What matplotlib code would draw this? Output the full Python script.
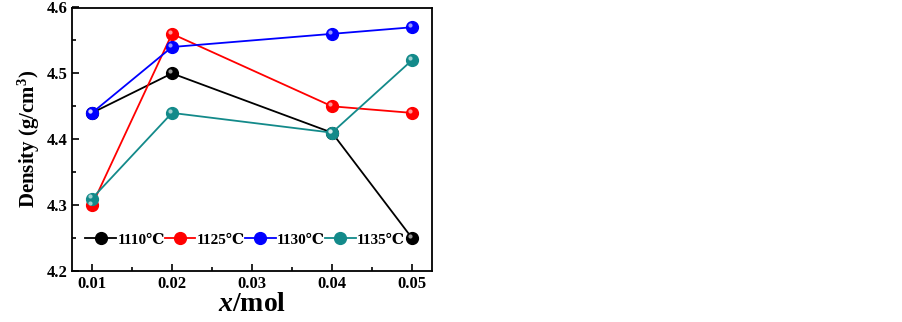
import matplotlib.pyplot as plt
import matplotlib.transforms as mtransforms
from matplotlib.ticker import MultipleLocator

x_mol = [0.01, 0.02, 0.04, 0.05]
temps = ['1110\u2103', '1125\u2103', '1130\u2103', '1135\u2103']
dens_1110 = [4.44, 4.50, 4.41, 4.25]
dens_1125 = [4.30, 4.56, 4.45, 4.44]
dens_1130 = [4.44, 4.54, 4.56, 4.57]
dens_1135 = [4.31, 4.44, 4.41, 4.52]

series = [dens_1110, dens_1125, dens_1130, dens_1135]
colors = ['black', '#ff0000', '#0000ff', '#138a8a']

plt.rcParams['font.family'] = ['Liberation Serif', 'DejaVu Serif']
plt.rcParams['font.weight'] = 'bold'
plt.rcParams['mathtext.fontset'] = 'custom'
plt.rcParams['mathtext.rm'] = 'Liberation Serif:bold'
plt.rcParams['mathtext.it'] = 'Liberation Serif:bold:italic'
plt.rcParams['mathtext.bf'] = 'Liberation Serif:bold'

my_dpi = 100
fig = plt.figure(figsize=(903 / my_dpi, 322 / my_dpi), dpi=my_dpi)
ax = fig.add_axes([72 / 903, 51 / 322, 360 / 903, 263.5 / 322])

# small highlight on each marker to fake the shaded balls
hl = mtransforms.offset_copy(ax.transData, fig=fig, x=-1.5, y=1.5, units='points')

handles = []
for ys, c, lab in zip(series, colors, temps):
    h, = ax.plot(x_mol, ys, '-o', color=c, lw=1.3, ms=8.5,
                 mec=c, mfc=c, label=lab, zorder=3)
    ax.plot(x_mol, ys, 'o', ls='none', ms=3, mfc='white', mec='none',
            alpha=0.6, transform=hl, zorder=4)
    handles.append(h)

ax.set_xlim(0.0075, 0.0525)
ax.set_ylim(4.2, 4.6)
ax.xaxis.set_major_locator(MultipleLocator(0.01))
ax.xaxis.set_minor_locator(MultipleLocator(0.005))
ax.yaxis.set_major_locator(MultipleLocator(0.1))
ax.yaxis.set_minor_locator(MultipleLocator(0.05))
ax.tick_params(which='both', direction='in', top=False, right=False,
               labelsize=12, width=1.2)
ax.tick_params(which='major', length=5)
ax.tick_params(which='minor', length=3)
for s in ax.spines.values():
    s.set_linewidth(1.3)
for t in ax.get_xticklabels() + ax.get_yticklabels():
    t.set_fontweight('bold')

ax.set_ylabel('Density (g/cm$^{\\mathbf{3}}$)', fontsize=15, fontweight='bold', labelpad=3)
ax.set_xlabel('$x$/mol', fontsize=20, fontweight='bold', labelpad=0)

ax.legend(handles=handles, loc='center left', bbox_to_anchor=(0.02, 0.118),
          ncol=4, frameon=False, handlelength=2.0, handletextpad=0.1,
          columnspacing=0.0, borderaxespad=0, prop={'size': 11, 'weight': 'bold'})

plt.savefig('out.png', dpi=my_dpi)
